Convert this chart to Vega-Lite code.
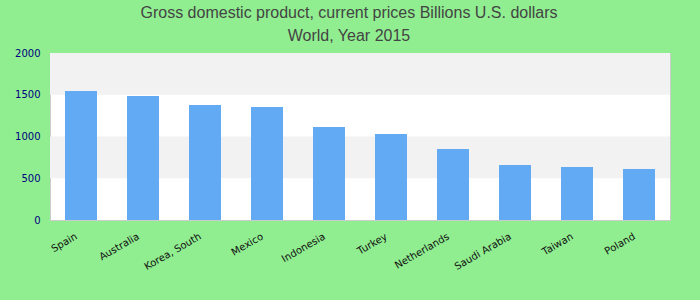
{
  "$schema": "https://vega.github.io/schema/vega-lite/v6.json",
  "autosize": "none",
  "width": 620,
  "height": 167,
  "padding": {"left": 50, "top": 53, "right": 30, "bottom": 80},
  "background": "#90EE90",
  "title": {
    "text": ["Gross domestic product, current prices Billions U.S. dollars", "World, Year 2015"],
    "font": "Liberation Sans",
    "fontSize": 16,
    "fontWeight": "normal",
    "color": "#444444",
    "lineHeight": 23.5,
    "anchor": "middle",
    "dx": -11,
    "offset": 4
  },
  "config": {
    "view": {"stroke": "#cccccc", "strokeWidth": 1, "fill": "#ffffff"},
    "axis": {"domain": false, "ticks": false, "grid": false, "title": null}
  },
  "datasets": {
    "bands": [
      {"lo": 500, "hi": 1000},
      {"lo": 1500, "hi": 2000}
    ],
    "gdp": [
      {"country": "Spain", "value": 1545},
      {"country": "Australia", "value": 1485},
      {"country": "Korea, South", "value": 1377},
      {"country": "Mexico", "value": 1353},
      {"country": "Indonesia", "value": 1114},
      {"country": "Turkey", "value": 1030},
      {"country": "Netherlands", "value": 850},
      {"country": "Saudi Arabia", "value": 659},
      {"country": "Taiwan", "value": 635},
      {"country": "Poland", "value": 610}
    ]
  },
  "layer": [
    {
      "data": {"name": "bands"},
      "mark": {"type": "rect", "color": "#f2f2f2"},
      "encoding": {
        "y": {"field": "lo", "type": "quantitative", "scale": {"domain": [0, 2000]},
              "axis": {"values": [0, 500, 1000, 1500, 2000], "format": "d", "labelColor": "#000080", "labelFont": "DejaVu Sans", "labelFontSize": 10, "labelPadding": 10, "title": null}},
        "y2": {"field": "hi"}
      }
    },
    {
      "data": {"name": "gdp"},
      "mark": {"type": "bar", "color": "#62aaf4"},
      "encoding": {
        "x": {"field": "country", "type": "nominal", "sort": null,
              "scale": {"paddingInner": 0.484, "paddingOuter": 0.242},
              "axis": {"labelAngle": -30, "labelAlign": "right", "labelBaseline": "top", "labelColor": "#111111", "labelFont": "DejaVu Sans", "labelFontSize": 10, "labelPadding": 11, "labelOffset": -7, "title": null}},
        "y": {"field": "value", "type": "quantitative", "scale": {"domain": [0, 2000]},
              "axis": {"values": [0, 500, 1000, 1500, 2000], "format": "d", "labelColor": "#000080", "labelFont": "DejaVu Sans", "labelFontSize": 10, "labelPadding": 10, "title": null}}
      }
    }
  ]
}
